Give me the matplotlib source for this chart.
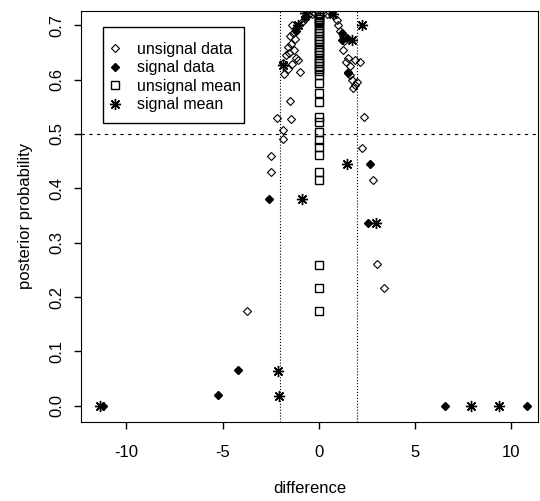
import matplotlib.pyplot as plt
from matplotlib.patches import Rectangle

plt.rcParams['font.family'] = ['Liberation Sans', 'DejaVu Sans']
plt.rcParams['font.size'] = 12
plt.rcParams['axes.unicode_minus'] = False

# open diamonds
unsig_x = [-0.36, -0.57, -0.75, -0.9, -1.05, -1.2, -1.4, -1.35, -1.5, -1.25, -1.45, -1.6,
           -1.3, -1.55, -1.7, -1.2, -1.09, -1.87, -1.4, -1.0, -1.8, -1.6, -1.5, -1.45,
           -2.2, -1.87, -1.87, -2.49, -2.49, -3.74, -0.2, 0.2, 0.4,
           0.67, 0.93, 1.0, 1.1, 1.25, 1.3, 1.25, 1.5, 2.13, 1.87, 1.5, 1.7, 1.87, 1.77,
           1.6, 2.0, 1.4, 1.6, 2.34, 2.25, 2.8, 3.0, 3.37]
unsig_y = [0.72, 0.718, 0.712, 0.705, 0.70, 0.695, 0.70, 0.686, 0.68, 0.675, 0.665, 0.66,
           0.655, 0.648, 0.645, 0.64, 0.636, 0.63, 0.628, 0.614, 0.61, 0.62, 0.56, 0.527,
           0.53, 0.507, 0.49, 0.46, 0.43, 0.175, 0.722, 0.722, 0.72,
           0.72, 0.71, 0.70, 0.69, 0.68, 0.67, 0.654, 0.64, 0.632, 0.636, 0.614, 0.60, 0.59, 0.585,
           0.608, 0.595, 0.632, 0.625, 0.531, 0.475, 0.415, 0.26, 0.217]

# filled diamonds
sig_x = [-11.2, -5.24, -4.2, -2.6, 2.65, 2.55, 6.54, 10.8, -1.2, -0.75, 1.2, 1.45, 1.5, 1.2]
sig_y = [0.0, 0.02, 0.066, 0.38, 0.445, 0.336, 0.0, 0.0, 0.69, 0.715, 0.685, 0.676, 0.612, 0.672]

# open squares, all at difference 0
umean_y = [0.72, 0.718, 0.715, 0.712, 0.708, 0.705, 0.70, 0.695, 0.69, 0.685, 0.68, 0.675,
           0.67, 0.665, 0.66, 0.655, 0.65, 0.645, 0.64, 0.635, 0.63, 0.625, 0.62, 0.615,
           0.608, 0.594, 0.575, 0.559, 0.531, 0.522, 0.504, 0.489, 0.476, 0.461, 0.43,
           0.415, 0.259, 0.217, 0.175]
umean_x = [0.0] * len(umean_y)

# asterisks
smean_x = [-11.37, -2.13, -2.08, -0.9, 1.45, 2.96, 7.9, 9.35, 2.23, 1.7, -1.87, -1.1, -0.72, 0.73]
smean_y = [0.0, 0.064, 0.018, 0.38, 0.445, 0.336, 0.0, 0.0, 0.70, 0.673, 0.627, 0.70, 0.722, 0.72]

fig = plt.figure(figsize=(5.4, 5.01), dpi=100)
ax = fig.add_axes([0.15, 0.158, 0.846, 0.82])

ax.axvline(-2, color='black', linestyle=':', linewidth=0.8)
ax.axvline(2, color='black', linestyle=':', linewidth=0.8)
ax.axhline(0.5, color='black', linestyle=(0, (3, 4)), linewidth=0.8)

ax.plot(unsig_x, unsig_y, linestyle='none', marker='D', markersize=3.6,
        markerfacecolor='none', markeredgecolor='black', markeredgewidth=0.8, label='unsignal data')
ax.plot(sig_x, sig_y, linestyle='none', marker='D', markersize=4,
        color='black', label='signal data')
ax.plot(umean_x, umean_y, linestyle='none', marker='s', markersize=5.8,
        markerfacecolor='none', markeredgecolor='black', markeredgewidth=1, label='unsignal mean')
ax.plot(smean_x, smean_y, linestyle='none', marker=(8, 2, 0), markersize=8,
        color='black', markeredgewidth=1, label='signal mean')

ax.set_xlim(-12.36, 11.37)
ax.set_ylim(-0.0294, 0.726)
ax.set_xticks([-10, -5, 0, 5, 10])
ax.set_yticks([0.0, 0.1, 0.2, 0.3, 0.4, 0.5, 0.6, 0.7])
ax.set_yticklabels(['0.0', '0.1', '0.2', '0.3', '0.4', '0.5', '0.6', '0.7'],
                   rotation=90, va='center')
ax.tick_params(length=5, width=1, pad=12)
ax.tick_params(axis='y', pad=7)
ax.set_xlabel('difference', labelpad=15)
ax.set_ylabel('posterior probability', labelpad=12)

leg = ax.legend(loc='upper left', bbox_to_anchor=(0.057, 0.925), frameon=False,
                handlelength=1, handletextpad=0.9, borderpad=0, borderaxespad=0,
                labelspacing=0.22, fontsize=11.5)
ax.add_patch(Rectangle((0.048, 0.727), 0.309, 0.234, transform=ax.transAxes,
                       fill=False, edgecolor='black', linewidth=1))

fig.savefig('out.png', dpi=100)
